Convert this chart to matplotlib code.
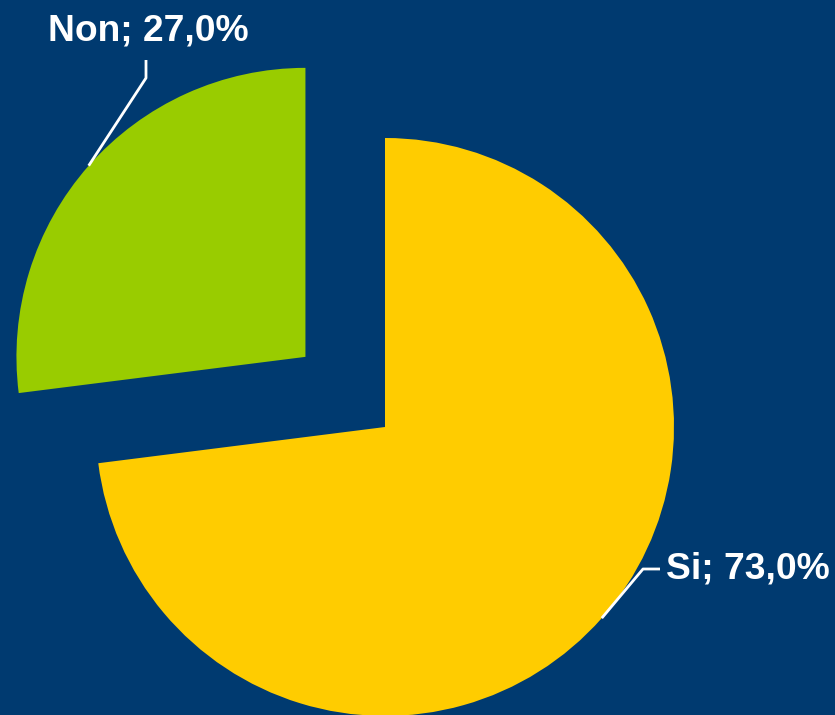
import matplotlib
matplotlib.use("Agg")
import matplotlib.pyplot as plt
import numpy as np

# Data
labels = ["Si", "Non"]
values = [73.0, 27.0]
colors = ["#FFCC00", "#99CC00"]

bg = "#003A70"
radius = 289
# matplotlib's explode offset is in data units, so scale by radius
explode = [0.0, 0.367 * radius]

fig = plt.figure(figsize=(8.35, 7.15), dpi=100)
fig.patch.set_facecolor(bg)
ax = fig.add_axes([0, 0, 1, 1])
ax.set_facecolor(bg)

# pie centred in pixel-like data units
wedges, _ = ax.pie(values, colors=colors, explode=explode, startangle=90,
                   counterclock=False, radius=radius, center=(385, 288),
                   wedgeprops=dict(linewidth=0), frame=True)
ax.set_xlim(0, 835)
ax.set_ylim(0, 715)
ax.axis("off")

# label positions (elbow and text) in data units
label_cfg = {
    "Si": dict(elbow=(643, 146), end=(660, 146), text=(666, 146), ha="left", va="center"),
    "Non": dict(elbow=(146, 637), end=(146, 655), text=(148, 684), ha="center", va="center"),
}

for w, lab, val in zip(wedges, labels, values):
    ang = np.deg2rad((w.theta1 + w.theta2) / 2)
    cx, cy = w.center
    r = w.r
    start = (cx + r * np.cos(ang), cy + r * np.sin(ang))
    cfg = label_cfg[lab]
    xs = [start[0], cfg["elbow"][0], cfg["end"][0]]
    ys = [start[1], cfg["elbow"][1], cfg["end"][1]]
    ax.plot(xs, ys, color="white", lw=2, solid_capstyle="butt")
    txt = f"{lab}; {val:.1f}%".replace(".", ",")
    ax.text(cfg["text"][0], cfg["text"][1], txt, color="white", fontsize=26.8,
            fontweight="bold", family="Liberation Sans",
            ha=cfg["ha"], va=cfg["va"])

fig.savefig("out.png", dpi=100, facecolor=bg)
